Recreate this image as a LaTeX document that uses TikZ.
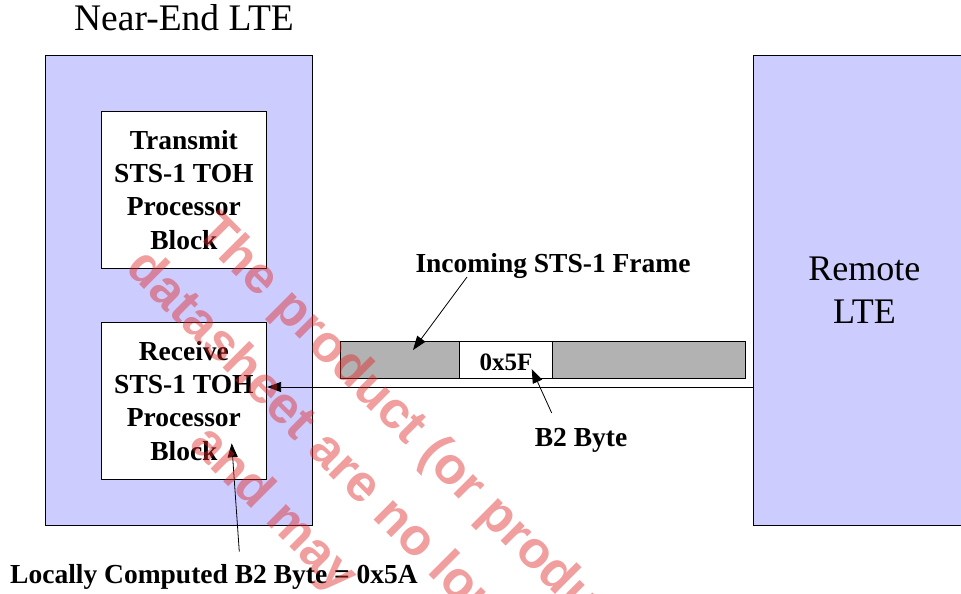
\documentclass[tikz,border=0pt]{standalone}
\usepackage{fontspec}
\setmainfont{Liberation Serif}
\newfontfamily\wmfont{Liberation Sans}
\usetikzlibrary{arrows.meta}
\definecolor{ltebg}{RGB}{204,204,255}
\definecolor{framegray}{RGB}{178,178,178}
\definecolor{wmred}{RGB}{225,40,40}
\begin{document}
\begin{tikzpicture}[x=1pt,y=-1pt,
  box/.style={draw=black, line width=0.8pt, inner sep=0pt, anchor=north west},
  lte/.style={box, fill=ltebg},
  blockbox/.style={box, fill=white, align=center, font=\fontsize{27.5}{33.3}\selectfont\bfseries},
  boldlbl/.style={font=\fontsize{27.5}{33.3}\selectfont\bfseries, inner sep=0pt, anchor=base},
  biglbl/.style={font=\fontsize{36}{43.3}\selectfont, align=center, inner sep=0pt},
  conn/.style={line width=0.8pt, draw=black},
  arr/.style={conn, -{Triangle[length=14pt,width=10pt]}},
  wm/.style={font=\wmfont\bfseries\fontsize{52}{52}\selectfont, text=wmred, text opacity=0.45, rotate=-45, anchor=mid west, inner sep=0pt}
]
\useasboundingbox (0,0) rectangle (961,594);
\clip (0,0) rectangle (961,594);

% LTE boxes
\node[lte, minimum width=267pt, minimum height=470pt] (near) at (45,55) {};
\node[lte, biglbl, minimum width=222pt, minimum height=470pt, anchor=north west] (remote) at (753,55) {Remote\\LTE};
\node[biglbl, font=\fontsize{37.5}{45}\selectfont, anchor=base] (title) at (184,31) {Near-End LTE};

% processor blocks
\node[blockbox, minimum width=165pt, minimum height=157pt] (tx) at (101,111) {Transmit\\STS-1 TOH\\Processor\\Block};
\node[blockbox, minimum width=165.6pt, minimum height=157pt] (rx) at (100.7,322) {Receive\\STS-1 TOH\\Processor\\Block};

% incoming frame
\node[box, fill=framegray, minimum width=405pt, minimum height=37pt] (frame) at (340,341) {};
\node[box, fill=white, minimum width=92.4pt, minimum height=37pt] (cell) at (459.3,341) {};
\node[font=\fontsize{25}{30}\selectfont\bfseries, inner sep=0pt, anchor=base] (val) at (506,370.7) {0x5F};

% labels
\node[boldlbl] (inc) at (553,272.7) {Incoming STS-1 Frame};
\node[boldlbl] (b2) at (581,446.7) {B2 Byte};
\node[boldlbl] (loc) at (214,583) {Locally Computed B2 Byte = 0x5A};

% connectors
\coordinate (rxline) at (0,387);
\draw[arr] (remote.west |- rxline) -- (rx.east |- rxline);
\coordinate (incTail) at (467,277);
\coordinate (incHead) at (413,350);
\draw[arr] (incTail) -- (incHead);
\coordinate (b2Tail) at (551.7,413);
\coordinate (b2Head) at (531.7,369);
\draw[arr] (b2Tail) -- (b2Head);
\coordinate (locTail) at (239.3,551.7);
\coordinate (locHead) at (231.7,443.3);
\draw[arr] (locTail) -- (locHead);

% watermark
\node[wm] (wm1) at (196,232) {The product (or products)};
\node[wm] (wm2) at (126,268) {datasheet are no longer};
\node[wm] (wm3) at (190,444) {and may};
\end{tikzpicture}
\end{document}
